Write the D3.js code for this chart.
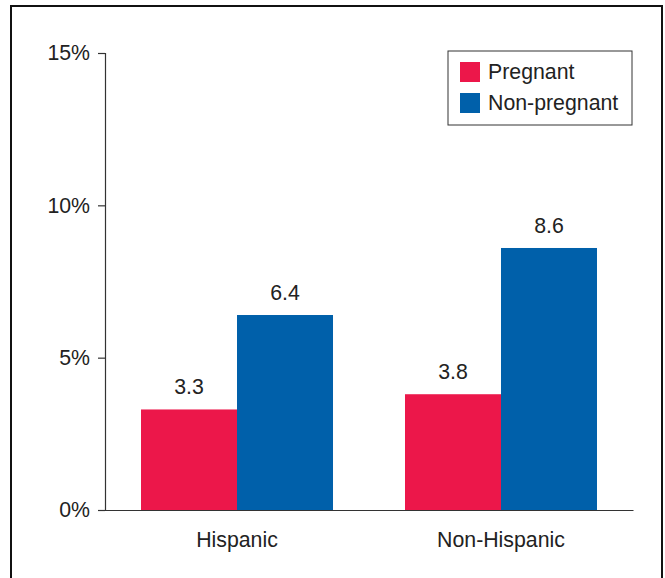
<!DOCTYPE html>
<html>
<head>
<meta charset="utf-8">
<script src="https://cdn.jsdelivr.net/npm/d3@7"></script>
<style>
  body { margin: 0; background: #fff; }
  text { font-family: "Liberation Sans", Arial, sans-serif; fill: #222; }
</style>
</head>
<body>
<div id="chart"></div>
<script>
// data
var groups = ["Hispanic", "Non-Hispanic"];
var seriesNames = ["Pregnant", "Non-pregnant"];
var pregnant = [3.3, 3.8];
var nonPregnant = [6.4, 8.6];
var yTicks = [0, 5, 10, 15];
var colors = ["#ec174a", "#0060aa"];

var w = 665, h = 578;
var fs = 21.3;

var svg = d3.select("#chart")
  .append("svg")
  .attr("width", w)
  .attr("height", h);

// outer frame (open at the bottom)
svg.append("path")
  .attr("d", "M11,578 V6 H662 V578")
  .attr("fill", "none")
  .attr("stroke", "#111")
  .attr("stroke-width", 2);

// scales
var x = d3.scaleBand()
  .domain(groups)
  .range([105, 633])
  .paddingInner(0.2727)
  .paddingOuter(0.1364);

var x1 = d3.scaleBand()
  .domain(seriesNames)
  .range([0, x.bandwidth()]);

var y = d3.scaleLinear()
  .domain([0, 15])
  .range([510, 53]);

// y axis
var yAxis = svg.append("g")
  .attr("transform", "translate(105,0)")
  .call(d3.axisLeft(y).tickValues(yTicks).tickSize(7).tickPadding(8)
    .tickFormat(function(d){ return d + "%"; }));
yAxis.select(".domain").attr("stroke", "#333").attr("stroke-width", 1.2);
yAxis.selectAll(".tick line").attr("stroke", "#333").attr("stroke-width", 1.2);
yAxis.selectAll(".tick text")
  .attr("font-size", fs)
  .attr("font-family", "Liberation Sans, Arial, sans-serif")
  .attr("fill", "#222");

// bars
var rows = groups.map(function(g, i){
  return { group: g, values: [pregnant[i], nonPregnant[i]] };
});

var gs = svg.selectAll(".grp")
  .data(rows)
  .enter()
  .append("g")
  .attr("class", "grp")
  .attr("transform", function(d){ return "translate(" + x(d.group) + ",0)"; });

gs.selectAll("rect")
  .data(function(d){ return d.values; })
  .enter()
  .append("rect")
  .attr("x", function(d, i){ return x1(seriesNames[i]); })
  .attr("width", x1.bandwidth())
  .attr("y", function(d){ return y(d); })
  .attr("height", function(d){ return y(0) - y(d); })
  .attr("fill", function(d, i){ return colors[i]; });

gs.selectAll(".val")
  .data(function(d){ return d.values; })
  .enter()
  .append("text")
  .attr("class", "val")
  .attr("x", function(d, i){ return x1(seriesNames[i]) + x1.bandwidth() / 2; })
  .attr("y", function(d){ return y(d) - 15; })
  .attr("text-anchor", "middle")
  .attr("font-size", fs)
  .text(function(d){ return d.toFixed(1); });

// x axis line
var xAxis = svg.append("g")
  .attr("transform", "translate(0,510)")
  .call(d3.axisBottom(x).tickSize(0).tickPadding(22));
xAxis.select(".domain").attr("stroke", "#333").attr("stroke-width", 1.2);
xAxis.selectAll(".tick text")
  .attr("font-size", fs)
  .attr("font-family", "Liberation Sans, Arial, sans-serif")
  .attr("fill", "#222");

// legend
var legend = svg.append("g");
legend.append("rect")
  .attr("x", 448)
  .attr("y", 51)
  .attr("width", 184)
  .attr("height", 74)
  .attr("fill", "#fff")
  .attr("stroke", "#333")
  .attr("stroke-width", 1);

seriesNames.forEach(function(s, i){
  legend.append("rect")
    .attr("x", 460)
    .attr("y", 62 + i * 31)
    .attr("width", 20)
    .attr("height", 20)
    .attr("fill", colors[i]);
  legend.append("text")
    .attr("x", 488)
    .attr("y", 79 + i * 31)
    .attr("font-size", fs)
    .text(s);
});
</script>
</body>
</html>
